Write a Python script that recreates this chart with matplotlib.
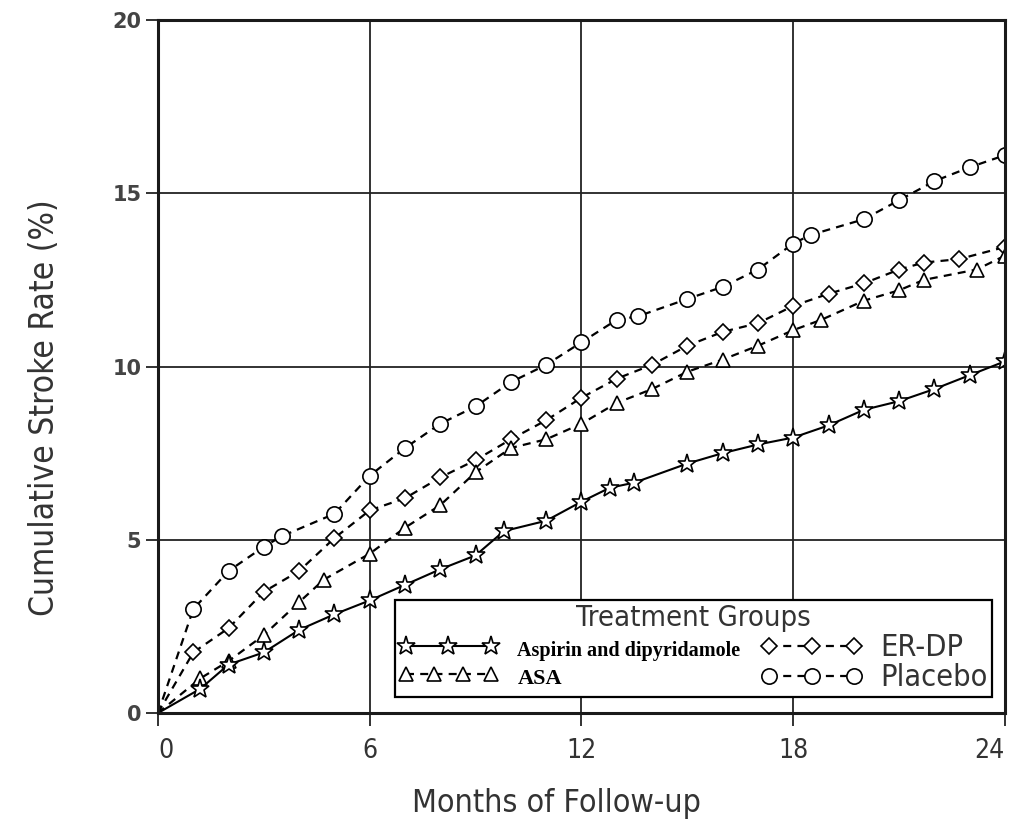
import matplotlib
matplotlib.use('Agg')
import matplotlib.pyplot as plt
from matplotlib import font_manager
from matplotlib.legend_handler import HandlerLine2D

# values (months, cumulative %)
star_months = [0, 1.2, 2, 3, 4, 5, 6, 7, 8, 9, 9.8, 11, 12, 12.8, 13.5, 15, 16, 17, 18, 19, 20, 21, 22, 23, 24]
star_rate = [0, 0.7, 1.4, 1.75, 2.4, 2.85, 3.25, 3.7, 4.15, 4.55, 5.25, 5.55, 6.1, 6.5, 6.65,
             7.2, 7.5, 7.75, 7.95, 8.3, 8.75, 9.0, 9.35, 9.75, 10.15]

asa_months = [0, 1.2, 2, 3, 4, 4.7, 6, 7, 8, 9, 10, 11, 12, 13, 14, 15, 16, 17, 18, 18.8, 20, 21, 21.7, 23.2, 24]
asa_rate = [0, 1.0, 1.5, 2.25, 3.2, 3.85, 4.6, 5.35, 6.0, 6.95, 7.65, 7.9, 8.35, 8.95, 9.35,
            9.85, 10.2, 10.6, 11.05, 11.35, 11.9, 12.2, 12.5, 12.8, 13.2]

erdp_months = [0, 1, 2, 3, 4, 5, 6, 7, 8, 9, 10, 11, 12, 13, 14, 15, 16, 17, 18, 19, 20, 21, 21.7, 22.7, 24]
erdp_rate = [0, 1.75, 2.45, 3.5, 4.1, 5.05, 5.85, 6.2, 6.8, 7.3, 7.9, 8.45, 9.1, 9.65, 10.05,
             10.6, 11.0, 11.25, 11.75, 12.1, 12.4, 12.8, 13.0, 13.1, 13.45]

placebo_months = [0, 1, 2, 3, 3.5, 5, 6, 7, 8, 9, 10, 11, 12, 13, 13.6, 15, 16, 17, 18, 18.5, 20, 21, 22, 23, 24]
placebo_rate = [0, 3.0, 4.1, 4.8, 5.1, 5.75, 6.85, 7.65, 8.35, 8.85, 9.55, 10.05, 10.7, 11.35, 11.45,
                11.95, 12.3, 12.8, 13.55, 13.8, 14.25, 14.8, 15.35, 15.75, 16.1]

x_ticks = [0, 6, 12, 18, 24]
y_ticks = [0, 5, 10, 15, 20]

# narrow sans for the labels, like the scanned original
cond = [f for f in font_manager.fontManager.ttflist
        if f.name == 'DejaVu Sans' and f.stretch == 'condensed']
if cond:
    NARROW = dict(family='DejaVu Sans', stretch='condensed')
else:
    NARROW = dict(family='Liberation Sans')
SERIF = 'Liberation Serif'


def narrow(t, size, color='#333333'):
    t.set_fontfamily(NARROW['family'])
    if 'stretch' in NARROW:
        t.set_fontstretch(NARROW['stretch'])
    t.set_fontsize(size)
    t.set_color(color)


fig = plt.figure(figsize=(10.09, 8.21), dpi=100)
ax = fig.add_axes([0.1566, 0.1315, 0.8394, 0.8441])

mk = dict(markerfacecolor='white', markeredgecolor='black', markeredgewidth=1.2,
          markevery=slice(1, None), color='black')
dash = (0, (3.6, 2.8))

l_plac, = ax.plot(placebo_months, placebo_rate, linestyle=dash, lw=1.6, marker='o', ms=11, **mk)
l_erdp, = ax.plot(erdp_months, erdp_rate, linestyle=dash, lw=1.6, marker='D', ms=8.5, **mk)
l_asa, = ax.plot(asa_months, asa_rate, linestyle=dash, lw=1.6, marker='^', ms=10.5, **mk)
l_star, = ax.plot(star_months, star_rate, linestyle='-', lw=1.5, marker='*', ms=14, **mk)

ax.set_xlim(0, 24)
ax.set_ylim(0, 20)
ax.set_xticks(x_ticks)
ax.set_yticks(y_ticks)
ax.grid(True, color='#222222', linewidth=1.3)
ax.set_axisbelow(True)
for s in ax.spines.values():
    s.set_linewidth(2.2)
    s.set_color('#1a1a1a')

ax.tick_params(direction='out', length=9, width=1.3, color='#222222')
ax.tick_params(axis='x', pad=9)
ax.tick_params(axis='y', pad=3)
xl = ax.get_xticklabels()
for t in xl:
    narrow(t, 19)
xl[0].set_horizontalalignment('left')
xl[-1].set_horizontalalignment('right')
for t in ax.get_yticklabels():
    t.set_fontfamily('DejaVu Sans')
    t.set_fontsize(15)
    t.set_fontweight('bold')
    t.set_color('#444444')

ax.set_xlabel('Months of Follow-up')
ax.set_ylabel('Cumulative Stroke Rate (%)')
narrow(ax.xaxis.label, 23)
narrow(ax.yaxis.label, 24)
ax.xaxis.set_label_coords(0.47, -0.108)
ax.yaxis.set_label_coords(-0.114, 0.44)

leg = ax.legend(handles=[l_star, l_asa, l_erdp, l_plac],
                labels=['Aspirin and dipyridamole', 'ASA', 'ER-DP', 'Placebo'],
                ncol=2, title='Treatment Groups', loc='lower right',
                bbox_to_anchor=(0.985, 0.023), borderaxespad=0, frameon=True,
                fancybox=False, edgecolor='black', framealpha=1, fontsize=16,
                numpoints=3, handlelength=4.4, handleheight=1.5,
                handletextpad=0.9, columnspacing=1.0,
                labelspacing=0.05, borderpad=0.2,
                handler_map={l_asa: HandlerLine2D(numpoints=4)})
leg.get_frame().set_linewidth(1.6)
narrow(leg.get_title(), 21)
txt = leg.get_texts()
txt[0].set_fontfamily(SERIF)
txt[0].set_fontweight('bold')
txt[0].set_fontsize(14.5)
txt[1].set_fontfamily(SERIF)
txt[1].set_fontweight('bold')
txt[1].set_fontsize(16)
for t in txt[2:]:
    narrow(t, 22)

fig.savefig('out.png', dpi=100)
